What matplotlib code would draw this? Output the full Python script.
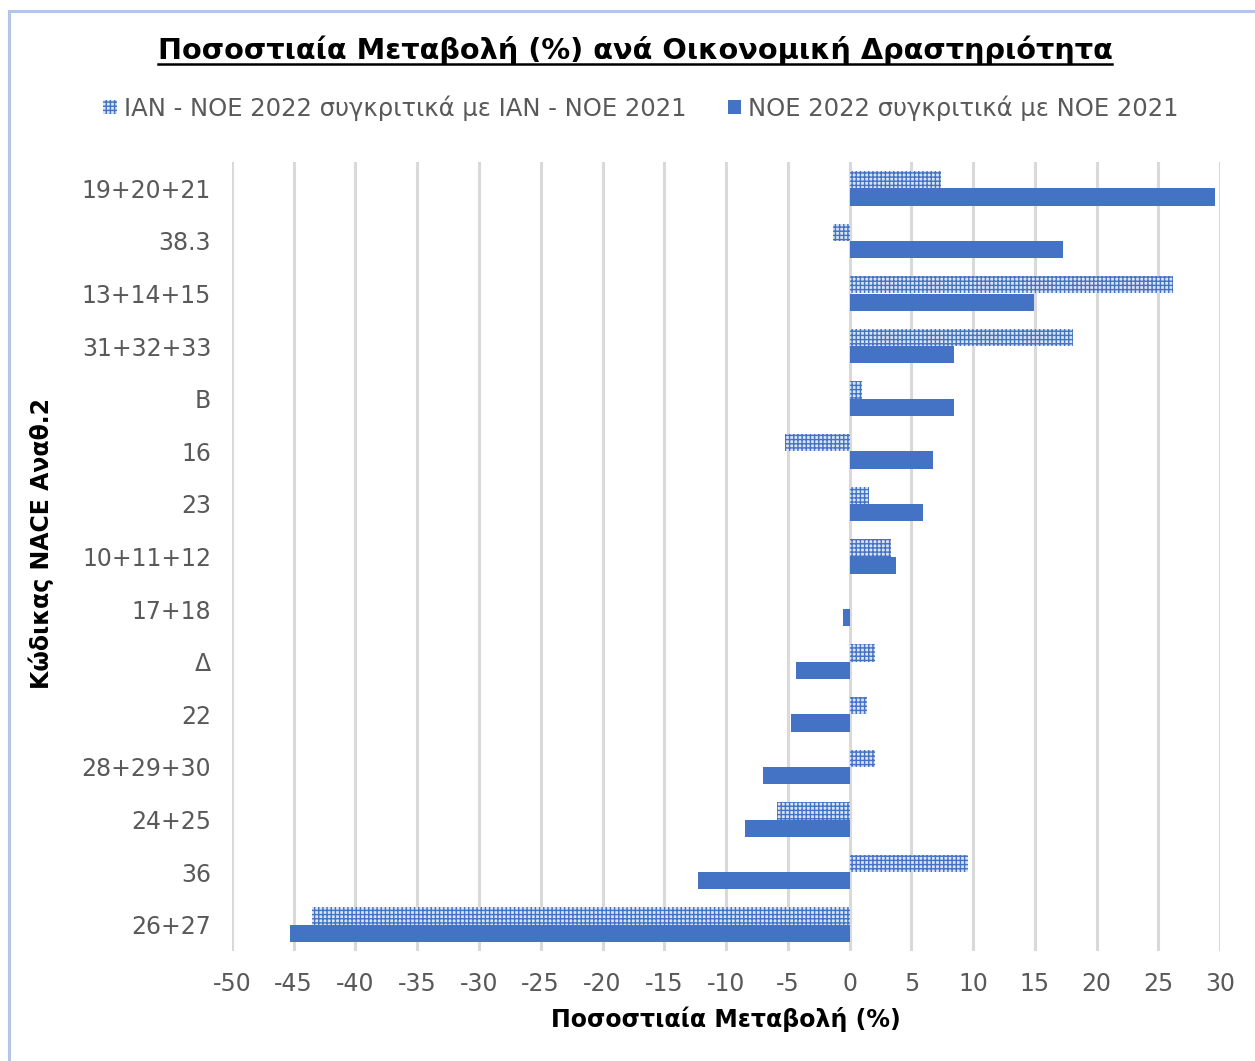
import matplotlib
matplotlib.use("Agg")
import matplotlib.pyplot as plt
import numpy as np
from matplotlib.lines import Line2D

categories = ["19+20+21", "38.3", "13+14+15", "31+32+33", "B", "16", "23",
              "10+11+12", "17+18", "Δ", "22", "28+29+30", "24+25", "36", "26+27"]
ytd_change = [7.4, -1.3, 26.2, 18.1, 1.0, -5.2, 1.6, 3.4, 0.0, 2.1, 1.4, 2.1, -5.9, 9.6, -43.5]
nov_change = [29.6, 17.3, 14.9, 8.5, 8.5, 6.8, 5.95, 3.8, -0.5, -4.3, -4.7, -7.0, -8.5, -12.3, -45.3]
xticks = list(range(-50, 31, 5))

label_ytd = "ΙΑΝ - ΝΟΕ 2022 συγκριτικά με ΙΑΝ - ΝΟΕ 2021"
label_nov = "ΝΟΕ 2022 συγκριτικά με ΝΟΕ 2021"

plt.rcParams['font.family'] = ['DejaVu Sans']
plt.rcParams['hatch.linewidth'] = 1.0

W, H = 1255, 1061
fig = plt.figure(figsize=(W / 100, H / 100), dpi=100)
ax = fig.add_axes([232 / W, 1 - 951 / H, (1220 - 232) / W, (951 - 162) / H])

blue = "#4472C4"
y = np.arange(len(categories))
bh = 0.33
ax.barh(y - bh / 2, ytd_change, height=bh, facecolor="#dbe4f5", edgecolor=blue,
        hatch="++++", linewidth=0, label=label_ytd, zorder=3)
ax.barh(y + bh / 2, nov_change, height=bh, color=blue, label=label_nov, zorder=3)

ax.set_xlim(-50, 30)
ax.set_ylim(len(categories) - 0.5, -0.5)
ax.set_xticks(xticks)
ax.set_xticklabels([str(t) for t in xticks])
ax.set_yticks(y)
ax.set_yticklabels(categories)
ax.tick_params(axis="both", length=0, labelsize=17, labelcolor="#595959")
ax.tick_params(axis="y", pad=15)
ax.tick_params(axis="x", pad=15)
ax.grid(axis="x", color="#d9d9d9", linewidth=2.2, zorder=0)
ax.set_axisbelow(True)
for s in ax.spines.values():
    s.set_visible(False)

ax.set_xlabel("Ποσοστιαία Μεταβολή (%)", fontsize=17, fontweight="bold", labelpad=8)
ax.set_ylabel("Κώδικας NACE Αναθ.2", fontsize=17, fontweight="bold")
ax.yaxis.set_label_coords((54 - 232) / 988, (951 - 544) / 789)

leg = fig.legend(loc="center", bbox_to_anchor=(641 / W, 1 - 108 / H), ncol=2,
                 frameon=False, fontsize=17.5, handlelength=0.55, handleheight=0.55,
                 handletextpad=0.3, columnspacing=1.7)
for t in leg.get_texts():
    t.set_color("#595959")

title = fig.text(635 / W, 1 - 50 / H, "Ποσοστιαία Μεταβολή (%) ανά Οικονομική Δραστηριότητα",
                 ha="center", va="center", fontsize=20.7, fontweight="bold")

# figure frame (left and top visible)
fig.add_artist(Line2D([8.5 / W, 8.5 / W], [0, 1 - 11 / H], color="#b4c6e7", linewidth=2.2,
                      transform=fig.transFigure))
fig.add_artist(Line2D([8.5 / W, 1], [1 - 11 / H, 1 - 11 / H], color="#b4c6e7", linewidth=2.2,
                      transform=fig.transFigure))

# underline the title
fig.canvas.draw()
bb = title.get_window_extent(renderer=fig.canvas.get_renderer())
uy = (bb.y0 + 1) / H
fig.add_artist(Line2D([bb.x0 / W, bb.x1 / W], [uy, uy], color="black", linewidth=1.8,
                      transform=fig.transFigure))

fig.savefig("out.png", dpi=100)
